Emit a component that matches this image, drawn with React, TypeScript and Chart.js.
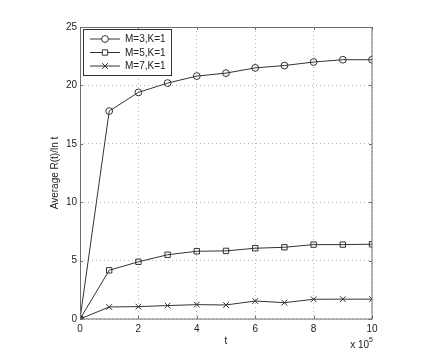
import React, { useEffect, useRef } from "react";
import { Chart, registerables } from "chart.js";

Chart.register(...registerables);

const tValues = [0, 1, 2, 3, 4, 5, 6, 7, 8, 9, 10];
const seriesM3 = [0, 17.8, 19.4, 20.2, 20.8, 21.05, 21.5, 21.7, 22.0, 22.2, 22.2];
const seriesM5 = [0, 4.17, 4.9, 5.5, 5.8, 5.83, 6.06, 6.14, 6.37, 6.37, 6.4];
const seriesM7 = [0, 1.03, 1.06, 1.15, 1.23, 1.2, 1.54, 1.4, 1.69, 1.7, 1.7];
const seriesLabels = ["M=3,K=1", "M=5,K=1", "M=7,K=1"];
const seriesMarkers = ["circle", "rect", "crossRot"];
const xTicks = [0, 2, 4, 6, 8, 10];
const yTicks = [0, 5, 10, 15, 20, 25];
const xTitle = "t";
const yTitle = "Average R(t)/ln t";
const xExponent = "5";

const FONT = "'Liberation Sans', Arial, Helvetica, sans-serif";
const LINE = "#333333";
const FRAME = "#6e6e6e";

function drawMarker(ctx: CanvasRenderingContext2D, style: string, x: number, y: number, r: number) {
  ctx.save();
  ctx.strokeStyle = LINE;
  ctx.lineWidth = 1;
  ctx.beginPath();
  if (style === "circle") {
    ctx.arc(x, y, r, 0, Math.PI * 2);
    ctx.fillStyle = "#fff";
    ctx.fill();
  } else if (style === "rect") {
    const s = r * Math.SQRT1_2;
    ctx.rect(x - s, y - s, 2 * s, 2 * s);
    ctx.fillStyle = "#fff";
    ctx.fill();
  } else {
    const s = r * Math.SQRT1_2;
    ctx.moveTo(x - s, y - s);
    ctx.lineTo(x + s, y + s);
    ctx.moveTo(x + s, y - s);
    ctx.lineTo(x - s, y + s);
  }
  ctx.stroke();
  ctx.restore();
}

const framePlugin = {
  id: "frameTicks",
  afterDatasetsDraw(chart: any) {
    const { ctx, chartArea: a, scales } = chart;
    ctx.save();
    ctx.strokeStyle = FRAME;
    ctx.lineWidth = 1;
    ctx.setLineDash([]);
    ctx.strokeRect(a.left + 0.5, a.top + 0.5, a.right - a.left - 0.5, a.bottom - a.top - 0.5);
    const tl = 3;
    ctx.beginPath();
    xTicks.forEach((v) => {
      const px = Math.round(scales.x.getPixelForValue(v)) + 0.5;
      ctx.moveTo(px, a.bottom);
      ctx.lineTo(px, a.bottom - tl);
      ctx.moveTo(px, a.top);
      ctx.lineTo(px, a.top + tl);
    });
    yTicks.forEach((v) => {
      const py = Math.round(scales.y.getPixelForValue(v)) + 0.5;
      ctx.moveTo(a.left, py);
      ctx.lineTo(a.left + tl, py);
      ctx.moveTo(a.right, py);
      ctx.lineTo(a.right - tl, py);
    });
    ctx.stroke();
    ctx.restore();
  },
  afterDraw(chart: any) {
    const { ctx, chartArea: a } = chart;
    ctx.save();
    // exponent label
    ctx.fillStyle = "#222";
    ctx.textBaseline = "alphabetic";
    ctx.textAlign = "right";
    ctx.font = `7px ${FONT}`;
    const expW = ctx.measureText(xExponent).width;
    ctx.fillText(xExponent, a.right + 1, 342);
    ctx.font = `10px ${FONT}`;
    ctx.fillText("x 10", a.right + 1 - expW, 348);

    // legend
    const bx = 83.5, by = 29.5, bw = 88, bh = 46;
    ctx.fillStyle = "#fff";
    ctx.fillRect(bx, by, bw, bh);
    ctx.strokeStyle = "#333";
    ctx.lineWidth = 1;
    ctx.strokeRect(bx, by, bw, bh);
    const rows = [39, 52.5, 66];
    chart.data.datasets.forEach((ds: any, i: number) => {
      const y = rows[i];
      ctx.strokeStyle = LINE;
      ctx.lineWidth = 1;
      ctx.beginPath();
      ctx.moveTo(90, y);
      ctx.lineTo(120, y);
      ctx.stroke();
      drawMarker(ctx, seriesMarkers[i], 105, y, ds.pointRadius);
      ctx.fillStyle = "#222";
      ctx.textAlign = "left";
      ctx.textBaseline = "middle";
      ctx.font = `10px ${FONT}`;
      ctx.fillText(ds.label, 125, y + 0.5);
    });
    ctx.restore();
  },
};

export default function App() {
  const ref = useRef<HTMLCanvasElement | null>(null);
  useEffect(() => {
    if (!ref.current) return;
    const all = [seriesM3, seriesM5, seriesM7];
    const radii = [3.4, 3.8, 4];
    const chart = new Chart(ref.current, {
      type: "line",
      data: {
        datasets: all.map((s, i) => ({
          label: seriesLabels[i],
          data: s.map((v, j) => ({ x: tValues[j], y: v })),
          borderColor: LINE,
          borderWidth: 1,
          pointStyle: seriesMarkers[i] as any,
          pointRadius: radii[i],
          pointBorderColor: LINE,
          pointBorderWidth: 1,
          pointBackgroundColor: "rgba(0,0,0,0)",
          tension: 0,
          fill: false,
        })),
      },
      options: {
        animation: false,
        responsive: false,
        maintainAspectRatio: false,
        layout: { padding: { left: 0, top: 27, right: 64, bottom: 0 } },
        plugins: {
          legend: { display: false },
          tooltip: { enabled: false },
        },
        scales: {
          x: {
            type: "linear",
            min: 0,
            max: 10,
            afterBuildTicks: (s: any) => {
              s.ticks = xTicks.map((v) => ({ value: v }));
            },
            afterFit: (s: any) => {
              s.height = 40;
            },
            grid: {
              drawTicks: false,
              color: "#b5b5b5",
              lineWidth: 1,
            },
            border: { display: false, dash: [1, 3] },
            ticks: {
              padding: 4,
              color: "#222",
              font: { family: FONT, size: 10 },
              maxRotation: 0,
              autoSkip: false,
            },
            title: {
              display: true,
              text: xTitle,
              color: "#222",
              font: { family: FONT, size: 10 },
              padding: { top: 0, bottom: 12 },
            },
          },
          y: {
            type: "linear",
            min: 0,
            max: 25,
            afterBuildTicks: (s: any) => {
              s.ticks = yTicks.map((v) => ({ value: v }));
            },
            afterFit: (s: any) => {
              s.width = 80;
            },
            grid: {
              drawTicks: false,
              color: "#b5b5b5",
              lineWidth: 1,
            },
            border: { display: false, dash: [1, 3] },
            ticks: {
              padding: 3,
              color: "#222",
              font: { family: FONT, size: 10 },
              autoSkip: false,
            },
            title: {
              display: true,
              text: yTitle,
              color: "#222",
              font: { family: FONT, size: 10 },
              padding: { top: 49, bottom: 0 },
            },
          },
        },
      },
      plugins: [framePlugin],
    });
    return () => chart.destroy();
  }, []);
  return (
    <div style={{ position: "fixed", left: 0, top: 0, width: 436, height: 359, background: "#fff" }}>
      <canvas ref={ref} width={436} height={359} style={{ width: 436, height: 359, display: "block" }} />
    </div>
  );
}
